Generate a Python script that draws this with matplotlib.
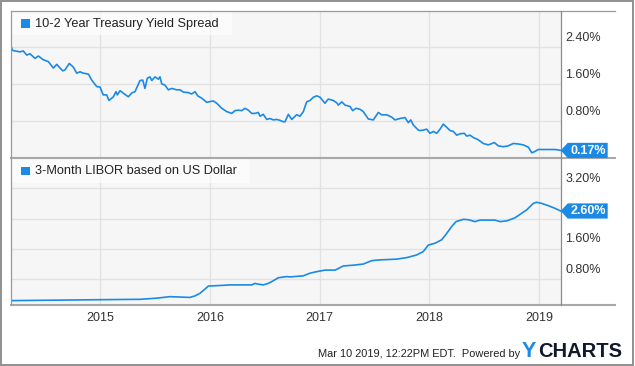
import matplotlib
matplotlib.use("Agg")
import matplotlib.pyplot as plt
from matplotlib.patches import Polygon, Rectangle
from matplotlib.lines import Line2D
from matplotlib.transforms import IdentityTransform

plt.rcParams['font.family'] = ['Liberation Sans', 'DejaVu Sans']

# ---------------- data (decimal years, percent) ----------------
spread_t = [2014.183, 2014.201, 2014.268, 2014.298, 2014.329, 2014.359, 2014.404, 2014.435,
            2014.480, 2014.526, 2014.572, 2014.603, 2014.657, 2014.678, 2014.717, 2014.754,
            2014.785, 2014.815, 2014.845, 2014.891, 2014.922, 2014.967, 2014.997, 2015.027,
            2015.058, 2015.079, 2015.119, 2015.143, 2015.155, 2015.180, 2015.225, 2015.255,
            2015.286, 2015.316, 2015.362, 2015.387, 2015.407, 2015.428, 2015.453, 2015.469,
            2015.499, 2015.529, 2015.544, 2015.560, 2015.590, 2015.620, 2015.651, 2015.696,
            2015.727, 2015.757, 2015.802, 2015.833, 2015.863, 2015.888, 2015.924, 2015.970,
            2016.030, 2016.061, 2016.107, 2016.152, 2016.198, 2016.228, 2016.258, 2016.289,
            2016.319, 2016.349, 2016.380, 2016.410, 2016.440, 2016.456, 2016.486, 2016.517,
            2016.547, 2016.577, 2016.608, 2016.638, 2016.668, 2016.684, 2016.714, 2016.745,
            2016.790, 2016.820, 2016.851, 2016.881, 2016.912, 2016.942, 2016.973, 2017.003,
            2017.048, 2017.078, 2017.124, 2017.155, 2017.170, 2017.201, 2017.231, 2017.276,
            2017.301, 2017.331, 2017.367, 2017.397, 2017.443, 2017.489, 2017.534, 2017.565,
            2017.611, 2017.656, 2017.686, 2017.732, 2017.778, 2017.808, 2017.830, 2017.853,
            2017.899, 2017.914, 2017.944, 2017.975, 2018.005, 2018.036, 2018.067, 2018.097,
            2018.127, 2018.158, 2018.188, 2018.218, 2018.249, 2018.279, 2018.318, 2018.340,
            2018.370, 2018.400, 2018.446, 2018.491, 2018.537, 2018.592, 2018.628, 2018.674,
            2018.719, 2018.765, 2018.810, 2018.856, 2018.902, 2018.933, 2018.956, 2018.993,
            2019.038, 2019.084, 2019.145, 2019.175, 2019.197]
spread_v = [2.44, 2.33, 2.30, 2.32, 2.23, 2.26, 2.16, 2.21,
            2.13, 2.09, 1.95, 2.03, 1.89, 1.91, 2.05, 1.97,
            1.84, 1.87, 1.84, 1.82, 1.69, 1.55, 1.54, 1.37,
            1.37, 1.25, 1.33, 1.44, 1.37, 1.46, 1.38, 1.33,
            1.41, 1.44, 1.68, 1.69, 1.51, 1.73, 1.76, 1.68,
            1.76, 1.71, 1.76, 1.61, 1.58, 1.48, 1.51, 1.48,
            1.48, 1.43, 1.42, 1.39, 1.44, 1.35, 1.30, 1.21,
            1.24, 1.19, 1.08, 1.01, 0.97, 1.03, 1.04, 1.03,
            1.08, 1.04, 0.97, 0.97, 0.99, 0.91, 0.95, 0.84,
            0.86, 0.83, 0.84, 0.82, 0.79, 0.79, 0.95, 0.84,
            0.94, 0.91, 1.01, 1.22, 1.25, 1.32, 1.35, 1.32,
            1.19, 1.28, 1.25, 1.20, 1.15, 1.22, 1.15, 1.12,
            1.03, 1.08, 1.06, 1.01, 0.85, 0.83, 0.99, 0.94,
            0.94, 0.89, 0.83, 0.86, 0.88, 0.77, 0.83, 0.72,
            0.61, 0.60, 0.61, 0.63, 0.54, 0.58, 0.54, 0.63,
            0.74, 0.67, 0.60, 0.58, 0.50, 0.53, 0.54, 0.48,
            0.50, 0.45, 0.40, 0.32, 0.29, 0.34, 0.27, 0.25,
            0.27, 0.32, 0.31, 0.29, 0.24, 0.12, 0.14, 0.19,
            0.19, 0.19, 0.19, 0.18, 0.17]

libor_t = [2014.183, 2015.000, 2015.362, 2015.514, 2015.635, 2015.818, 2015.863, 2015.909,
           2015.954, 2015.985, 2016.061, 2016.182, 2016.273, 2016.380, 2016.410, 2016.440,
           2016.486, 2016.531, 2016.577, 2016.623, 2016.699, 2016.729, 2016.851, 2016.912,
           2016.973, 2017.048, 2017.140, 2017.215, 2017.306, 2017.397, 2017.474, 2017.550,
           2017.702, 2017.793, 2017.884, 2017.944, 2017.990, 2018.051, 2018.112, 2018.158,
           2018.203, 2018.243, 2018.309, 2018.355, 2018.416, 2018.461, 2018.537, 2018.598,
           2018.644, 2018.705, 2018.780, 2018.826, 2018.887, 2018.947, 2018.978, 2019.024,
           2019.084, 2019.145, 2019.197]
libor_v = [0.235, 0.26, 0.27, 0.30, 0.34, 0.32, 0.36, 0.43,
           0.54, 0.62, 0.63, 0.65, 0.65, 0.65, 0.69, 0.67,
           0.65, 0.69, 0.76, 0.84, 0.87, 0.86, 0.89, 0.96,
           1.00, 1.04, 1.04, 1.15, 1.17, 1.20, 1.29, 1.31,
           1.33, 1.37, 1.44, 1.53, 1.70, 1.75, 1.84, 2.01,
           2.19, 2.32, 2.38, 2.37, 2.32, 2.36, 2.36, 2.36,
           2.32, 2.34, 2.42, 2.51, 2.63, 2.80, 2.83, 2.80,
           2.74, 2.67, 2.60]

years = [2015, 2016, 2017, 2018, 2019]
year_labels = ["2015", "2016", "2017", "2018", "2019"]
top_grid = [0.8, 1.6, 2.4]
top_labels = ["0.80%", "1.60%", "2.40%"]
bot_grid = [0.8, 1.6, 2.4, 3.2]
bot_labels = ["0.80%", "1.60%", "", "3.20%"]
top_name = "10-2 Year Treasury Yield Spread"
bot_name = "3-Month LIBOR based on US Dollar"
top_last = "0.17%"
bot_last = "2.60%"

# ---------------- styling ----------------
W, H = 635, 366
BLUE = "#1a8ae6"
BG = "#f6f6f6"
GRID = "#e2e2e2"
FRAME = "#9a9a9a"
TXT = "#333333"

fig = plt.figure(figsize=(W / 100, H / 100), dpi=100)


def fx(px):
    return px / W


def fy(py):
    return 1 - py / H


L, R = 10.7, 560.7
T1, B1 = 10.7, 158.3
T2, B2 = 158.3, 305.0

ax1 = fig.add_axes([fx(L), fy(B1), fx(R) - fx(L), fy(T1) - fy(B1)])
ax2 = fig.add_axes([fx(L), fy(B2), fx(R) - fx(L), fy(T2) - fy(B2)])

xlim = (2014.183, 2019.197)
for ax, t, v, grid, ylim in [(ax1, spread_t, spread_v, top_grid, (0, 3.19)),
                             (ax2, libor_t, libor_v, bot_grid, (0.12, 3.99))]:
    ax.set_facecolor(BG)
    ax.plot(t, v, color=BLUE, lw=1.2, solid_joinstyle='round', zorder=3)
    ax.set_xlim(*xlim)
    ax.set_ylim(*ylim)
    ax.set_xticks(years)
    ax.set_yticks(grid)
    ax.grid(True, color=GRID, lw=1.0, zorder=0)
    ax.tick_params(length=0, labelleft=False, labelbottom=False)
    for s in ax.spines.values():
        s.set_visible(False)

# x tick labels (bottom panel)
ax2.tick_params(labelbottom=True, labelsize=9, labelcolor=TXT, pad=5)
ax2.set_xticklabels(year_labels)

# right-side labels above the gridlines
for ax, grid, labels in [(ax1, top_grid, top_labels), (ax2, bot_grid, bot_labels)]:
    for g, lab in zip(grid, labels):
        if lab:
            ax.annotate(lab, xy=(1, g), xycoords=('axes fraction', 'data'),
                        xytext=(4.5, 9.5), textcoords='offset pixels',
                        ha='left', va='center', fontsize=9, color=TXT,
                        annotation_clip=False)

# frame lines
def hline(py, x0, x1, color=FRAME, lw=1.0):
    fig.add_artist(Line2D([fx(x0), fx(x1)], [fy(py), fy(py)], color=color, lw=lw,
                          transform=fig.transFigure, zorder=5))


def vline(px, y0, y1, color=FRAME, lw=1.0):
    fig.add_artist(Line2D([fx(px), fx(px)], [fy(y0), fy(y1)], color=color, lw=lw,
                          transform=fig.transFigure, zorder=5))


hline(T1, L, 615, lw=0.9)
hline(B1, L, 615, color="#a8a8a8", lw=1.5)
hline(B2, L, 615, color="#a8a8a8", lw=1.5)
vline(L, T1, B2, lw=0.9)
vline(R, T1, B2, color="#8a8a8a", lw=0.9)

# outer border
fig.add_artist(Rectangle((fx(1), fy(365)), fx(633) - fx(1), fy(1) - fy(365),
                         transform=fig.transFigure, fill=False, ec="#8f8f8f", lw=1.4))

# legend boxes
def legend(ax_top_px, name, width_px):
    fig.add_artist(Rectangle((fx(L + 0.5), fy(ax_top_px + 24.5)), fx(width_px) - fx(0),
                             fy(ax_top_px) - fy(ax_top_px + 24.5), transform=fig.transFigure,
                             fc="white", alpha=0.6, ec="none", zorder=4))
    fig.add_artist(Rectangle((fx(21.0), fy(ax_top_px + 17.0)), fx(8.6), fy(0) - fy(8.6),
                             transform=fig.transFigure, fc=BLUE, ec="none", zorder=6))
    fig.text(fx(34.8), fy(ax_top_px + 12.9), name, ha='left', va='center',
             fontsize=9.2, color="#222222", zorder=6)


legend(T1, top_name, 221)
legend(T2, bot_name, 239)


# value tags
def tag(ax, xval, yval, label):
    x0, y0 = ax.transData.transform((xval, yval))
    h = 7.6
    pts = [(x0, y0), (x0 + 7, y0 + h), (x0 + 47, y0 + h), (x0 + 47, y0 - h), (x0 + 7, y0 - h)]
    fig.add_artist(Polygon(pts, closed=True, fc=BLUE, ec="none",
                           transform=IdentityTransform(), zorder=7))
    fig.add_artist(plt.Text(x0 + 27.5, y0 - 0.3, label, ha='center', va='center',
                            fontsize=9, fontweight='bold', color='white',
                            transform=IdentityTransform(), zorder=8))


tag(ax1, xlim[1], spread_v[-1], top_last)
tag(ax2, xlim[1], libor_v[-1], bot_last)

# footer
fig.text(fx(520), fy(356.7), "Mar 10 2019, 12:22PM EDT.  Powered by", ha='right',
         va='baseline', fontsize=7.9, color="#222222")
fig.text(fx(522.0), fy(356.9), "Y", ha='left', va='baseline', fontsize=15.5,
         fontweight='bold', color=BLUE)
fig.text(fx(538.5), fy(356.7), "CHARTS", ha='left', va='baseline', fontsize=14.5,
         fontweight='bold', color="#101a2a")

fig.savefig("out.png", dpi=100)
